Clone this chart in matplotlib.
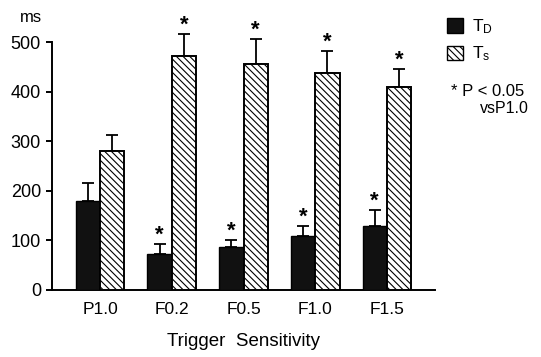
import matplotlib
matplotlib.use("Agg")
import matplotlib.pyplot as plt
import matplotlib.patches as mpatches
import numpy as np

# ── data ────────────────────────────────────────────────────────────────────
CATEGORIES = ["P1.0", "F0.2", "F0.5", "F1.0", "F1.5"]
TD_MEAN = [180, 72, 87, 108, 130]
TD_ERR  = [35, 21, 14, 22, 32]
TS_MEAN = [280, 472, 456, 438, 410]
TS_ERR  = [32, 45, 51, 44, 36]
TD_SIG  = [False, True, True, True, True]
TS_SIG  = [False, True, True, True, True]
YTICKS  = [0, 100, 200, 300, 400, 500]

plt.rcParams['font.family'] = ['Liberation Sans', 'DejaVu Sans']
plt.rcParams['hatch.linewidth'] = 0.8
plt.rcParams['mathtext.default'] = 'regular'

HATCH = '\\' * 5

fig = plt.figure(figsize=(5.41, 3.57), dpi=100)
ax = fig.add_axes([0.0961, 0.1877, 0.708, 0.750])

x = np.arange(len(CATEGORIES))
w = 0.34

ax.bar(x - w / 2, TD_MEAN, w, color='#111111', edgecolor='black', lw=1.0, zorder=3)
ax.bar(x + w / 2, TS_MEAN, w, color='white', edgecolor='black', lw=1.4,
       hatch=HATCH, zorder=3)

zeros = np.zeros(len(x))
ax.errorbar(x - w / 2, TD_MEAN, yerr=[zeros, TD_ERR], fmt='none', ecolor='black',
            elinewidth=1.3, capsize=4, capthick=1.3, zorder=2)
ax.errorbar(x + w / 2, TS_MEAN, yerr=[zeros, TS_ERR], fmt='none', ecolor='black',
            elinewidth=1.3, capsize=4, capthick=1.3, zorder=2)

# significance stars
for xi, m, e, s in zip(x - w / 2, TD_MEAN, TD_ERR, TD_SIG):
    if s:
        ax.annotate('*', (xi, m + e), xytext=(0, 6), textcoords='offset points',
                    ha='center', va='center', fontsize=16, fontweight='bold')
for xi, m, e, s in zip(x + w / 2, TS_MEAN, TS_ERR, TS_SIG):
    if s:
        ax.annotate('*', (xi, m + e), xytext=(0, 6), textcoords='offset points',
                    ha='center', va='center', fontsize=16, fontweight='bold',
                    annotation_clip=False)

ax.set_xlim(-0.67, 4.67)
ax.set_ylim(0, 540)
ax.set_yticks(YTICKS)
ax.set_xticks(x)
ax.set_xticklabels(CATEGORIES)
ax.spines['top'].set_visible(False)
ax.spines['right'].set_visible(False)
ax.spines['left'].set_bounds(0, 500)
ax.spines['left'].set_linewidth(1.4)
ax.spines['bottom'].set_linewidth(1.4)
ax.tick_params(axis='y', direction='out', length=4, width=1.4, labelsize=13, pad=4)
ax.tick_params(axis='x', length=0, labelsize=12.5, pad=9)
ax.set_xlabel("Trigger  Sensitivity", fontsize=13.5, labelpad=11)

fig.text(0.057, 0.952, "ms", ha='center', va='center', fontsize=12)

# legend
handles = [mpatches.Patch(facecolor='#111111', edgecolor='black'),
           mpatches.Patch(facecolor='white', edgecolor='black', hatch=HATCH)]
fig.legend(handles, ['T$_D$', 'T$_s$'], loc='upper left',
           bbox_to_anchor=(0.798, 0.995), frameon=False, fontsize=12.5,
           handlelength=0.9, handleheight=0.9, handletextpad=0.5, labelspacing=0.5)

fig.text(0.833, 0.745, "* P < 0.05", ha='left', va='center', fontsize=12)
fig.text(0.977, 0.697, "vsP1.0", ha='right', va='center', fontsize=11.5)

fig.savefig("out.png", dpi=100)
